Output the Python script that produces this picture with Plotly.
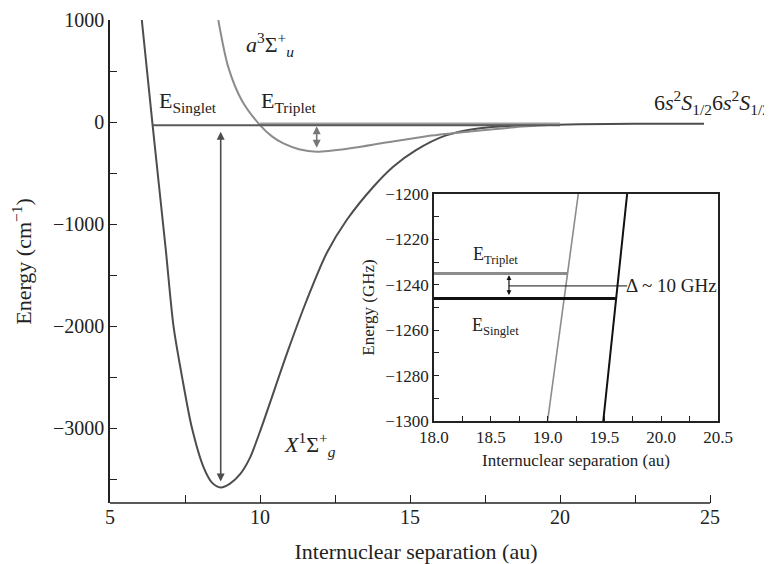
import plotly.graph_objects as go

# ---------------- data ----------------
# X1Sigma_g+ (singlet) potential, r in au, E in cm^-1
singlet_r = [6.06, 6.42, 6.86, 7.12, 7.44, 7.72, 8.11, 8.40, 8.69, 9.00, 9.33, 9.66, 10.0,
             10.94, 11.56, 12.22, 12.89, 13.78, 14.44, 15.2, 16.2, 17.33, 18.5,
             20.67, 22.5, 24.8]
singlet_E = [1000, -29, -1252, -2006, -2557, -2981, -3373, -3530, -3578, -3540, -3450, -3290, -3030,
             -2231, -1742, -1285, -959, -633, -437, -274, -130, -59, -35,
             -20, -16, -15]
# a3Sigma_u+ (triplet) potential
triplet_r = [8.61, 8.94, 9.39, 10.0, 10.4, 10.78, 11.3, 11.89, 13.0, 14.2, 15.5,
             17.0, 18.5, 20.0]
triplet_E = [1000, 541, 215, -29, -140, -209, -265, -290, -257, -200, -140,
             -92, -50, -22]
# bound-state levels (main plot)
singlet_level_r = [6.42, 20.0]
singlet_level_E = [-30, -30]
triplet_level_r = [10.0, 20.0]
triplet_level_E = [-15, -15]
# arrows (main plot)
big_arrow_r = 8.69
big_arrow_E = [-95, -3535]
small_arrow_r = 11.89
small_arrow_E = [-40, -265]

# inset: zoom near the levels, r in au, E in GHz
inset_triplet_r = [19.0, 19.27]
inset_triplet_E = [-1300, -1200]
inset_singlet_r = [19.49, 19.70]
inset_singlet_E = [-1300, -1200]
inset_triplet_level_r = [18.0, 19.18]
inset_triplet_level_E = [-1235, -1235]
inset_singlet_level_r = [18.0, 19.60]
inset_singlet_level_E = [-1246, -1246]
inset_arrow_r = 18.66
inset_arrow_E = [-1235.8, -1245.2]
inset_delta_r = [18.66, 19.70]
inset_delta_E = [-1240.5, -1240.5]

main_x_ticks = [5, 10, 15, 20, 25]
main_y_ticks = [1000, 0, -1000, -2000, -3000]

FONT = "Liberation Serif"
DARK = "#4d4d4d"
LIGHT = "#8c8c8c"
INK = "#222222"

fig = go.Figure()

# main curves
fig.add_trace(go.Scatter(x=singlet_r, y=singlet_E, mode="lines",
                         line=dict(color=DARK, width=2, shape="spline", smoothing=0.8),
                         hoverinfo="skip", showlegend=False))
fig.add_trace(go.Scatter(x=triplet_r, y=triplet_E, mode="lines",
                         line=dict(color=LIGHT, width=2, shape="spline", smoothing=0.8),
                         hoverinfo="skip", showlegend=False))
fig.add_trace(go.Scatter(x=triplet_level_r, y=triplet_level_E, mode="lines",
                         line=dict(color="#a0a0a0", width=2.5),
                         hoverinfo="skip", showlegend=False))
fig.add_trace(go.Scatter(x=singlet_level_r, y=singlet_level_E, mode="lines",
                         line=dict(color="#5a5a5a", width=2),
                         hoverinfo="skip", showlegend=False))

# inset traces
for xr, yr, col, w in [
    (inset_triplet_r, inset_triplet_E, "#8c8c8c", 1.6),
    (inset_singlet_r, inset_singlet_E, "#111111", 2),
    (inset_triplet_level_r, inset_triplet_level_E, "#8c8c8c", 3),
    (inset_singlet_level_r, inset_singlet_level_E, "#111111", 3),
    (inset_delta_r, inset_delta_E, "#111111", 1),
]:
    fig.add_trace(go.Scatter(x=xr, y=yr, mode="lines", xaxis="x2", yaxis="y2",
                             line=dict(color=col, width=w),
                             hoverinfo="skip", showlegend=False))

ann = []
# arrows
ann.append(dict(x=big_arrow_r, y=big_arrow_E[0], ax=big_arrow_r, ay=big_arrow_E[1],
                xref="x", yref="y", axref="x", ayref="y", text="", showarrow=True,
                arrowhead=2, startarrowhead=2, arrowside="end+start",
                arrowsize=1, arrowwidth=1.6, arrowcolor=DARK))
ann.append(dict(x=small_arrow_r, y=small_arrow_E[0], ax=small_arrow_r, ay=small_arrow_E[1],
                xref="x", yref="y", axref="x", ayref="y", text="", showarrow=True,
                arrowhead=2, startarrowhead=2, arrowside="end+start",
                arrowsize=1, arrowwidth=1.6, arrowcolor="#777777"))
ann.append(dict(x=inset_arrow_r, y=inset_arrow_E[0], ax=inset_arrow_r, ay=inset_arrow_E[1],
                xref="x2", yref="y2", axref="x2", ayref="y2", text="", showarrow=True,
                arrowhead=2, startarrowhead=2, arrowside="end+start",
                arrowsize=0.8, arrowwidth=1.2, arrowcolor="#111111"))

# labels
lab = dict(showarrow=False, font=dict(family=FONT, size=22, color=INK))
ann.append(dict(x=6.55, y=200, xref="x", yref="y", xanchor="left", yanchor="middle",
                text="E<sub>Singlet</sub>", **lab))
ann.append(dict(x=9.95, y=200, xref="x", yref="y", xanchor="left", yanchor="middle",
                text="E<sub>Triplet</sub>", **lab))
ann.append(dict(x=10.33, y=760, xref="x", yref="y", xanchor="center", yanchor="middle",
                text="<i>a</i><sup>3</sup>Σ<sup>+</sup><sub><i>u</i></sub>", **lab))
ann.append(dict(x=11.67, y=-3160, xref="x", yref="y", xanchor="center", yanchor="middle",
                text="<i>X</i><sup>1</sup>Σ<sup>+</sup><sub><i>g</i></sub>", **lab))
ann.append(dict(x=23.05, y=190, xref="x", yref="y", xanchor="left", yanchor="middle",
                text="6<i>s</i><sup>2</sup><i>S</i><sub>1/2</sub>6<i>s</i><sup>2</sup><i>S</i><sub>1/2</sub>",
                **lab))
lab2 = dict(showarrow=False, font=dict(family=FONT, size=18, color=INK))
ann.append(dict(x=18.54, y=-1227, xref="x2", yref="y2", xanchor="center", yanchor="middle",
                text="E<sub>Triplet</sub>", **lab2))
ann.append(dict(x=18.54, y=-1258.5, xref="x2", yref="y2", xanchor="center", yanchor="middle",
                text="E<sub>Singlet</sub>", **lab2))
ann.append(dict(x=19.67, y=-1240.5, xref="x2", yref="y2", xanchor="left", yanchor="middle",
                text="Δ ~ 10 GHz", showarrow=False, font=dict(family=FONT, size=19, color=INK)))

tickfont = dict(family=FONT, size=20, color=INK)
itickfont = dict(family=FONT, size=17, color=INK)

# page body adds an 8 px offset; margins compensate for it
fig.update_layout(
    template="none",
    width=772, height=564,
    margin=dict(l=102, r=58, t=12, b=69),
    paper_bgcolor="white", plot_bgcolor="white",
    font=dict(family=FONT, color=INK),
    showlegend=False,
    annotations=ann,
    shapes=[dict(type="line", xref="x", yref="paper", x0=5, x1=25, y0=0, y1=0,
                 line=dict(color=INK, width=1.5))],
    xaxis=dict(range=[5, 25.4], tickvals=main_x_ticks, ticks="inside", ticklen=8,
               tickwidth=1.2, tickcolor=INK, showline=False, showgrid=False,
               zeroline=False, tickfont=tickfont, automargin=False,
               minor=dict(dtick=2.5, ticks="inside", ticklen=8, tickwidth=1.2,
                          tickcolor=INK, showgrid=False),
               title=dict(text="Internuclear separation (au)",
                          font=dict(family=FONT, size=22, color=INK), standoff=16)),
    yaxis=dict(range=[-3730, 1000], tickvals=main_y_ticks, ticks="inside", ticklen=7,
               tickwidth=1.2, tickcolor=INK, showline=True, linecolor=INK,
               linewidth=1.5, showgrid=False, zeroline=False, tickfont=tickfont,
               automargin=False,
               minor=dict(dtick=500, ticks="inside", ticklen=7, tickwidth=1.2,
                          tickcolor=INK, showgrid=False),
               title=dict(text="Energy (cm<sup>−1</sup>)",
                          font=dict(family=FONT, size=22, color=INK), standoff=20)),
    xaxis2=dict(domain=[0.5294, 0.9935], anchor="y2", range=[18, 20.5], dtick=0.5,
                tick0=18, tickformat=".1f", ticks="inside", ticklen=5, tickwidth=1,
                tickcolor=INK, showline=True, mirror=True, linecolor=INK,
                linewidth=1.5, showgrid=False, zeroline=False, tickfont=itickfont,
                automargin=False,
                minor=dict(dtick=0.25, ticks="inside", ticklen=5, tickwidth=1,
                           tickcolor=INK, showgrid=False),
                title=dict(text="Internuclear separation (au)",
                           font=dict(family=FONT, size=17, color=INK), standoff=8)),
    yaxis2=dict(domain=[0.1698, 0.6398], anchor="x2", range=[-1300, -1200], dtick=20,
                ticks="inside", ticklen=5, tickwidth=1, tickcolor=INK, showline=True,
                mirror=True, linecolor=INK, linewidth=1.5, showgrid=False,
                zeroline=False, tickfont=itickfont, automargin=False,
                minor=dict(dtick=10, ticks="inside", ticklen=5, tickwidth=1,
                           tickcolor=INK, showgrid=False),
                title=dict(text="Energy (GHz)",
                           font=dict(family=FONT, size=17, color=INK), standoff=6)),
)

fig.write_html("out.html")
